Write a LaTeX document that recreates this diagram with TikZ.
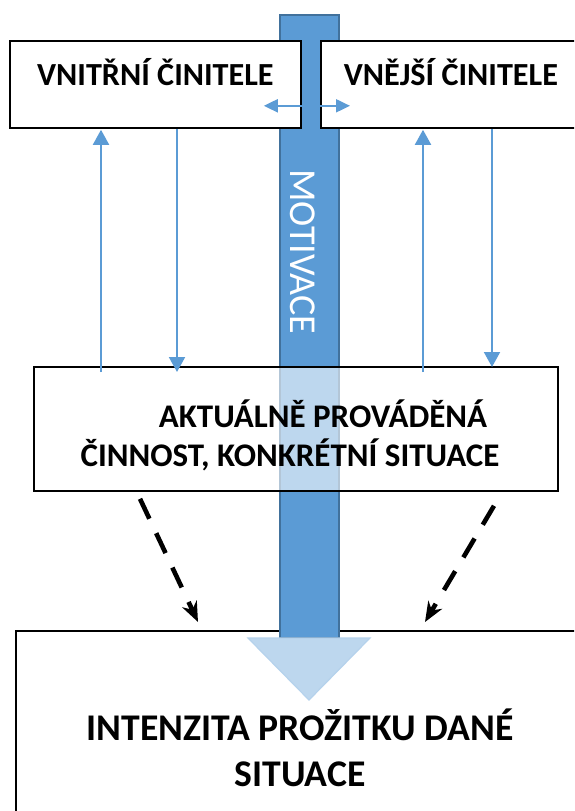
\documentclass[tikz,border=0pt]{standalone}
\usepackage{fontspec}
\setmainfont{Carlito}
\usetikzlibrary{
  arrows.meta,
  positioning,
  calc
}
\definecolor{motBlue}{HTML}{5B9BD5}
\definecolor{motEdge}{HTML}{41719C}
\definecolor{motLight}{HTML}{BDD7EE}
\tikzset{
  factor/.style={
    draw=black, line width=1.8pt, fill=white, anchor=north west,
    minimum height=87pt, inner sep=0pt
  },
  boxtext/.style={font=\fontsize{32.2}{39}\selectfont\bfseries, align=center, inner sep=0pt},
  acttext/.style={font=\fontsize{33}{39}\selectfont\bfseries, align=center, inner sep=0pt},
  bigtext/.style={font=\fontsize{37.7}{46}\selectfont\bfseries, align=center, inner sep=0pt},
  motlabel/.style={font=\fontsize{38}{40}\selectfont, text=white, inner sep=0pt},
  link/.style={-{Triangle[length=15pt, width=16pt]}, motBlue, line width=2pt},
  linkboth/.style={{Triangle[length=14pt, width=13pt]}-{Triangle[length=14pt, width=13pt]}, motBlue, line width=2pt},
  influence/.style={-{Stealth[length=20pt, width=16pt]}, line width=4.6pt, dash pattern=on 22pt off 16pt}
}

\begin{document}
\begin{tikzpicture}[x=1pt, y=-1pt]
  \clip (0,0) rectangle (574,811);
  \node[factor, minimum width=580pt, minimum height=200pt] (intenz) at (15,630) {};
  % the motivation arrow, behind the boxes
  \draw[motEdge, fill=motBlue, line width=1.2pt] (280,15) rectangle (339,638);
  \draw[motBlue!45, fill=motLight, line width=1.2pt] (248,638) -- (370,638) -- (309,700) -- cycle;
  \node[motlabel, rotate=-90] (motiv) at (303,252) {MOTIVACE};
  \node[factor, minimum width=291pt] (vnitrni) at (9,40) {};
  \node[factor, minimum width=260pt] (vnejsi) at (320,40) {};
  \node[factor, minimum width=524pt, minimum height=124pt, fill opacity=0.6] (akt) at (33,366) {};
  \node[boxtext, anchor=base] (vnitrniT) at ([yshift=-45pt]vnitrni.north) {VNITŘNÍ ČINITELE};
  \node[boxtext, anchor=base] (vnejsiT) at ([yshift=-45pt]vnejsi.north) {VNĚJŠÍ ČINITELE};
  \node[acttext] (aktT) at (290,435) {\hspace*{66pt}AKTUÁLNĚ PROVÁDĚNÁ\\ČINNOST, KONKRÉTNÍ SITUACE};
  \node[bigtext] (intenzT) at (300,748) {INTENZITA PROŽITKU DANÉ\\SITUACE};
  % feedback between the factors and the activity
  \draw[link] ([xshift=68pt, yshift=-6pt]akt.north west) -- ([xshift=92pt, yshift=-1pt]vnitrni.south west);
  \draw[link] ([xshift=168pt]vnitrni.south west) -- ([xshift=144pt, yshift=-6pt]akt.north west);
  \draw[link] ([xshift=390pt, yshift=-6pt]akt.north west) -- ([xshift=103pt, yshift=-1pt]vnejsi.south west);
  \draw[link] ([xshift=172pt]vnejsi.south west) -- ([xshift=459pt, yshift=-1pt]akt.north west);
  \draw[linkboth] ([xshift=-38pt, yshift=23pt]vnitrni.south east) -- ([xshift=30pt, yshift=23pt]vnejsi.south west);
  % influence on the intensity
  \draw[influence] ([xshift=107pt, yshift=-7pt]akt.south west) -- ([xshift=183pt, yshift=8pt]intenz.north west);
  \draw[influence] ([xshift=461pt, yshift=-14pt]akt.south west) -- ([xshift=410pt, yshift=8pt]intenz.north west);
\end{tikzpicture}
\end{document}
